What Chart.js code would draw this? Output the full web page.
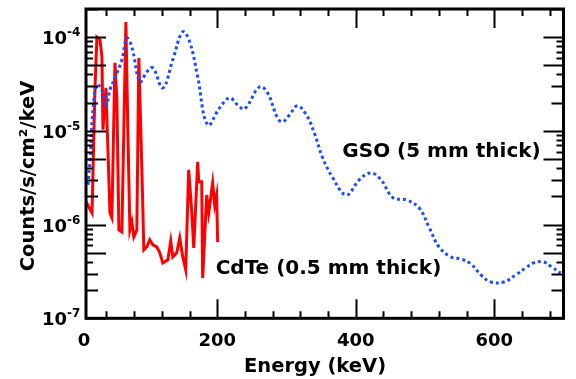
<!DOCTYPE html>
<html>
<head>
<meta charset="utf-8">
<script src="https://cdn.jsdelivr.net/npm/chart.js@4/dist/chart.umd.min.js"></script>
<style>
  html, body { margin: 0; padding: 0; background: #fff; }
  #wrap { width: 576px; height: 379px; }
</style>
</head>
<body>
<div id="wrap"><canvas id="spec" width="576" height="379"></canvas></div>
<script>
// GSO (5 mm) spectrum
const gsoEnergy = [13.4, 16.3, 20.6, 26.3, 33.4, 39.3, 45.1, 52.3, 62.3, 69.5, 76.7, 88.3, 98.3, 107.0,
    121.4, 135.8, 150.2, 160.3, 171.8, 186.2, 203.5, 217.9, 229.4, 239.5, 261.1, 272.6, 287.0, 294.2,
    304.3, 315.8, 328.7, 340.2, 351.7, 366.1, 386.3, 405.0, 420.9, 435.3, 454.0, 472.7, 491.4, 505.8,
    520.2, 537.4, 551.9, 566.3, 580.7, 595.1, 613.8, 631.0, 645.4, 656.9, 671.3, 682.8, 695.8];
const gsoCounts = [2.65e-6, 4.9e-6, 1.67e-5, 3.1e-5, 2.74e-5, 1.8e-5, 2.74e-5, 3.68e-5, 5.73e-5, 9.8e-5,
    7.88e-5, 3.33e-5, 4.26e-5, 4.7e-5, 2.88e-5, 5.73e-5, 1.14e-4, 8.9e-5, 3.77e-5, 1.16e-5, 1.76e-5,
    2.25e-5, 1.89e-5, 1.72e-5, 2.95e-5, 2.55e-5, 1.38e-5, 1.25e-5, 1.48e-5, 1.85e-5, 1.48e-5, 9.5e-6,
    5.28e-6, 3.23e-6, 2.07e-6, 3.0e-6, 3.56e-6, 3.08e-6, 1.93e-6, 1.84e-6, 1.51e-6, 9.4e-7, 5.78e-7,
    4.52e-7, 4.3e-7, 3.8e-7, 2.9e-7, 2.44e-7, 2.44e-7, 2.9e-7, 3.45e-7, 3.9e-7, 4.0e-7, 3.53e-7, 3.05e-7];

// CdTe (0.5 mm) spectrum
const cdteEnergy = [10.5, 19.2, 23.5, 26.3, 30.7, 33.5, 35.0, 39.3, 45.1, 47.9, 52.3, 55.1, 58.0, 62.3,
    68.1, 71.0, 73.9, 76.7, 79.6, 83.9, 86.8, 91.1, 94.0, 98.3, 102.7, 107.0, 112.7, 117.1, 121.4,
    128.6, 132.9, 135.8, 141.5, 145.9, 150.2, 154.5, 158.8, 163.2, 166.1, 171.8, 173.3, 177.6, 179.0,
    184.8, 187.7, 193.4, 196.3, 199.1, 200.6];
const cdteCounts = [1.75e-6, 1.33e-6, 2.95e-5, 1.0e-4, 9.35e-5, 6.2e-5, 1.03e-5, 2.88e-5, 1.33e-6, 1.18e-6,
    5.32e-5, 2.14e-5, 8.78e-7, 8.36e-7, 1.45e-4, 9.5e-6, 8.78e-7, 1.07e-6, 7.4e-7, 8.78e-7, 6.0e-5,
    4.13e-6, 5.37e-7, 5.78e-7, 6.87e-7, 6.07e-7, 5.78e-7, 4.99e-7, 3.9e-7, 4.2e-7, 6.7e-7, 4.52e-7,
    4.99e-7, 7.2e-7, 4.52e-7, 3.29e-7, 3.84e-6, 1.37e-6, 5.64e-7, 4.67e-6, 2.86e-6, 2.86e-6, 2.7e-7,
    2.07e-6, 1.33e-6, 2.79e-6, 1.62e-6, 2.07e-6, 6.5e-7];

// axes
const xMin = 10.5, xMax = 700;
const yMin = 1e-7, yMax = 2e-4;
const xTickValues = [0, 200, 400, 600];
const xTickLabels = ['0', '200', '400', '600'];
const xMinorStep = 40;
const yDecades = [-7, -6, -5, -4];

const labelGso = 'GSO (5 mm thick)';
const labelCdte = 'CdTe (0.5 mm thick)';

const FONT = '"DejaVu Sans", "Liberation Sans", sans-serif';

// ticks, frame, labels drawn ROOT style
const framePlugin = {
    id: 'frame',
    afterDraw(chart) {
        const ctx = chart.ctx;
        const a = chart.chartArea;
        const xs = chart.scales.x, ys = chart.scales.y;
        ctx.save();
        ctx.strokeStyle = '#000';
        ctx.fillStyle = '#000';

        // x ticks (bottom + top)
        ctx.lineWidth = 2;
        for (let v = xMinorStep; v < xMax; v += xMinorStep) {
            const px = Math.round(xs.getPixelForValue(v)) + 0.5;
            const len = (v % 200 === 0) ? 19 : 7;
            ctx.beginPath();
            ctx.moveTo(px, a.bottom); ctx.lineTo(px, a.bottom - len);
            ctx.moveTo(px, a.top); ctx.lineTo(px, a.top + len);
            ctx.stroke();
        }
        // y ticks (left + right)
        for (let d = -7; d <= -4; d++) {
            for (let m = 1; m <= 9; m++) {
                const v = m * Math.pow(10, d);
                if (v < yMin * 0.999 || v > yMax * 1.001) continue;
                const py = Math.round(ys.getPixelForValue(v)) + 0.5;
                let len = 7;
                if (m === 1 || m === 5) len = 20;
                else if (m === 2 || m === 3) len = 12;
                ctx.beginPath();
                ctx.moveTo(a.left, py); ctx.lineTo(a.left + len, py);
                ctx.moveTo(a.right, py); ctx.lineTo(a.right - len, py);
                ctx.stroke();
            }
        }

        // frame
        ctx.lineWidth = 3;
        ctx.strokeRect(a.left, a.top, a.right - a.left, a.bottom - a.top);

        // x tick labels
        ctx.font = 'bold 18px ' + FONT;
        ctx.textAlign = 'center';
        ctx.textBaseline = 'alphabetic';
        xTickValues.forEach((v, i) => {
            const px = xs.getPixelForValue(Math.max(v, xMin)) - (v < xMin ? 2 : 0);
            ctx.fillText(xTickLabels[i], px, 346);
        });

        // y tick labels 10^n
        yDecades.forEach(d => {
            const py = ys.getPixelForValue(Math.pow(10, d));
            ctx.font = 'bold 18px ' + FONT;
            ctx.textAlign = 'right';
            ctx.fillText('10', 67, py + 7);
            ctx.font = 'bold 12px ' + FONT;
            ctx.textAlign = 'left';
            ctx.fillText('-' + Math.abs(d), 67, py - 1);
        });

        // axis titles
        ctx.font = 'bold 19.5px ' + FONT;
        ctx.textAlign = 'center';
        ctx.fillText('Energy (keV)', 315, 372);
        ctx.save();
        ctx.translate(34, 176);
        ctx.rotate(-Math.PI / 2);
        ctx.fillText('Counts/s/cm²/keV', 0, 0);
        ctx.restore();

        // curve labels
        ctx.font = 'bold 20px ' + FONT;
        ctx.textAlign = 'left';
        ctx.fillText(labelGso, xs.getPixelForValue(380.6), 157);
        ctx.fillText(labelCdte, xs.getPixelForValue(197.7), 274);
        ctx.restore();
    }
};

new Chart(document.getElementById('spec'), {
    type: 'line',
    data: {
        datasets: [
            {
                label: labelGso,
                data: gsoEnergy.map((e, i) => ({ x: e, y: gsoCounts[i] })),
                borderColor: '#1a4dff',
                borderWidth: 3,
                borderDash: [3, 3],
                pointRadius: 0,
                tension: 0.4,
                fill: false
            },
            {
                label: labelCdte,
                data: cdteEnergy.map((e, i) => ({ x: e, y: cdteCounts[i] })),
                borderColor: '#ff0000',
                borderWidth: 3,
                pointRadius: 0,
                tension: 0,
                fill: false
            }
        ]
    },
    options: {
        responsive: false,
        animation: false,
        layout: { padding: { left: 0, right: 12.5, top: 9, bottom: 0 } },
        plugins: { legend: { display: false }, tooltip: { enabled: false } },
        scales: {
            x: {
                type: 'linear', min: xMin, max: xMax,
                grid: { display: false }, border: { display: false },
                ticks: { display: false },
                afterFit(s) { s.height = 379 - 318.3; }
            },
            y: {
                type: 'logarithmic', min: yMin, max: yMax,
                grid: { display: false }, border: { display: false },
                ticks: { display: false },
                afterFit(s) { s.width = 86; }
            }
        }
    },
    plugins: [framePlugin]
});
</script>
</body>
</html>
